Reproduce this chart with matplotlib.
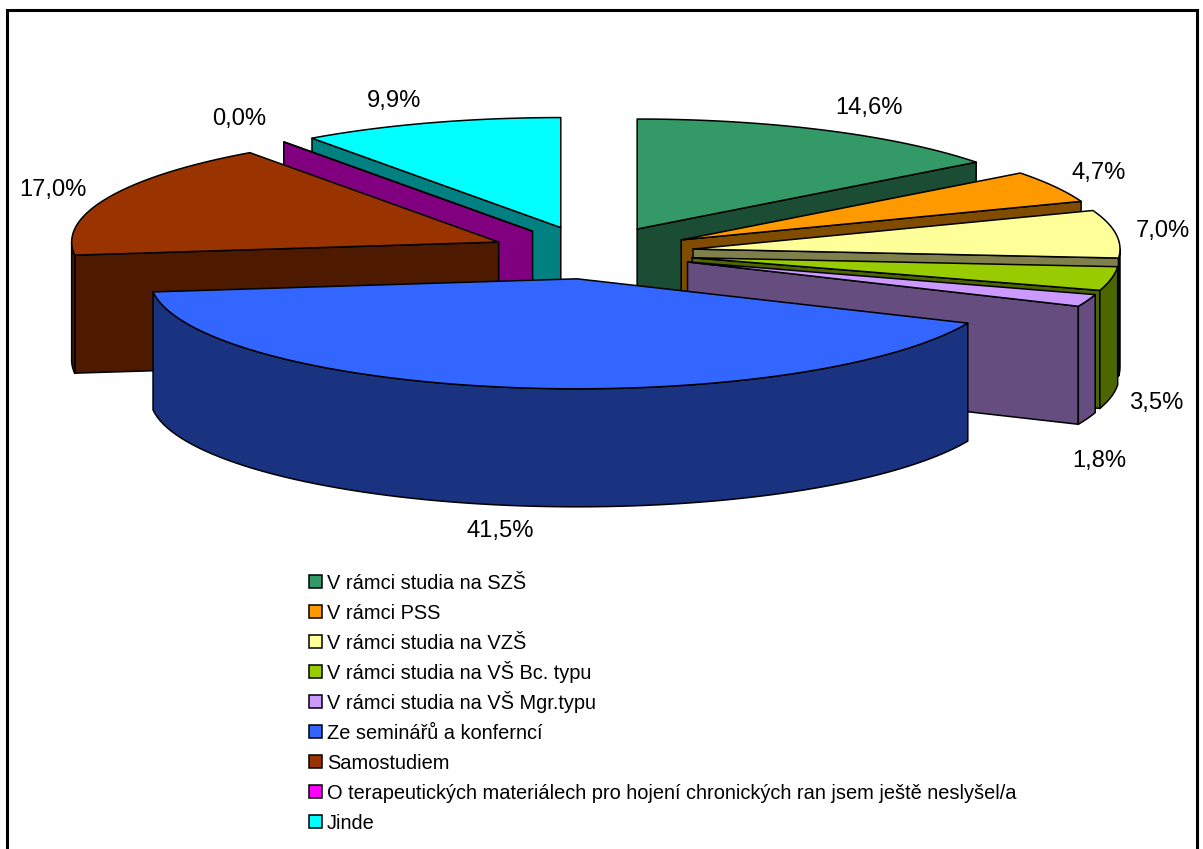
import numpy as np
import matplotlib
matplotlib.use("Agg")
import matplotlib.pyplot as plt
from matplotlib.patches import Polygon, Rectangle
from matplotlib.colors import to_rgb

plt.rcParams['font.family'] = ['Liberation Sans', 'DejaVu Sans']

# ---- data ----
categories = [
    "V rámci studia na SZŠ",
    "V rámci PSS",
    "V rámci studia na VZŠ",
    "V rámci studia na VŠ Bc. typu",
    "V rámci studia na VŠ Mgr.typu",
    "Ze seminářů a konferncí",
    "Samostudiem",
    "O terapeutických materiálech pro hojení chronických ran jsem ještě neslyšel/a",
    "Jinde",
]
values = [14.6, 4.7, 7.0, 3.5, 1.8, 41.5, 17.0, 0.0, 9.9]
value_labels = ["14,6%", "4,7%", "7,0%", "3,5%", "1,8%", "41,5%", "17,0%", "0,0%", "9,9%"]
colors = ["#339966", "#FF9900", "#FFFF99", "#99CC00", "#CC99FF",
          "#3366FF", "#993300", "#FF00FF", "#00FFFF"]

# ---- layout (pixels of the 1203x849 canvas) ----
label_anchor = [(869, 107), (1099, 172), (1163, 230), (1156, 402), (1099, 460),
                (500, 530), (53, 189), (239, 118), (394, 100)]
CX, CY = 592.0, 252.7     # pie centre
RX, RY = 427.0, 110.0     # ellipse radii
EXPLODE = 0.24            # explosion, as a fraction of the radius
DEPTH = 118.0             # extrusion height
LW = 1.1

fig = plt.figure(figsize=(12.03, 8.49), dpi=100, facecolor="white")
ax = fig.add_axes([0, 0, 1, 1])
ax.set_xlim(0, 1203)
ax.set_ylim(849, 0)
ax.axis("off")

ax.add_patch(Rectangle((7, 10), 1190, 860, fc="white", ec="black", lw=2.2, zorder=0))

total = sum(values)
edges = np.concatenate([[0], np.cumsum(values)]) / total * 2 * np.pi


def pt(t, r=1.0):
    return np.sin(t) * r, -np.cos(t) * r


def side(c):
    return tuple(0.5 * x for x in to_rgb(c))


def poly(points, fc, z):
    ax.add_patch(Polygon(points, closed=True, fc=fc, ec="black", lw=LW,
                         joinstyle="round", zorder=z))


mids = (edges[:-1] + edges[1:]) / 2
order = np.argsort([pt(m)[1] for m in mids])

for rank, i in enumerate(order):
    a0, a1, m = edges[i], edges[i + 1], mids[i]
    z = 2 + rank
    mu, mv = pt(m, EXPLODE)
    tx, ty = CX + mu * RX * 102 / 102.5, CY + mv * RY

    def P(t):
        u, v = pt(t)
        return tx + u * RX, ty + v * RY

    dark = side(colors[i])
    # flat walls that face the viewer
    if np.sin(a0) < 0:
        x, y = P(a0)
        poly([(tx, ty), (x, y), (x, y + DEPTH), (tx, ty + DEPTH)], dark, z)
    if np.sin(a1) > 0:
        x, y = P(a1)
        poly([(tx, ty), (x, y), (x, y + DEPTH), (tx, ty + DEPTH)], dark, z)
    # curved outer wall
    lo, hi = max(a0, np.pi / 2), min(a1, 3 * np.pi / 2)
    if hi > lo:
        arc = [P(t) for t in np.linspace(lo, hi, 80)]
        poly(arc + [(x, y + DEPTH) for x, y in arc[::-1]], dark, z)
    # top face
    n = max(2, int((a1 - a0) * 60))
    poly([(tx, ty)] + [P(t) for t in np.linspace(a0, a1, n)], colors[i], z)

for lab, (x, y) in zip(value_labels, label_anchor):
    ax.text(x, y + 1, lab, fontsize=17.1, ha="center", va="center", color="black", zorder=30)

# legend rows on an even 30 px pitch
for k, (name, c) in enumerate(zip(categories, colors)):
    base = 589 + 30 * k
    ax.add_patch(Rectangle((308.5, base - 14), 13, 13, fc=c, ec="black", lw=LW, zorder=30))
    ax.text(327, base, name, fontsize=14.4, ha="left", va="baseline", color="black", zorder=30)

fig.savefig("out.png", dpi=100)
